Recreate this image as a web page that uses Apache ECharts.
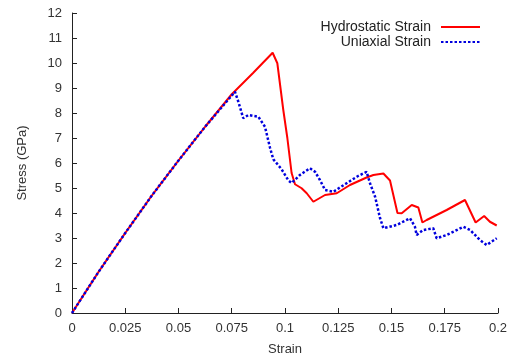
<!DOCTYPE html>
<html>
<head>
<meta charset="utf-8">
<script src="https://cdn.jsdelivr.net/npm/echarts@6/dist/echarts.min.js"></script>
<style>
  html, body { margin: 0; padding: 0; background: #fff; }
  #chart { width: 522px; height: 359px; }
</style>
</head>
<body>
<div id="chart"></div>
<script>
// strain / stress
const hydroStrain = [0, 0.0125, 0.025, 0.0375, 0.05, 0.0625, 0.075, 0.085, 0.0942, 0.0964,
    0.0992, 0.1011, 0.1031, 0.1047, 0.1078, 0.1102, 0.1133, 0.1188, 0.1243, 0.1305,
    0.1383, 0.1415, 0.1462, 0.1493, 0.1528, 0.1548, 0.1595, 0.1626, 0.1645, 0.1665,
    0.1759, 0.1845, 0.1895, 0.1935, 0.1962, 0.1994];
const hydroStress = [0, 1.65, 3.2, 4.7, 6.1, 7.45, 8.75, 9.6, 10.41, 9.99,
    8.12, 7.0, 5.6, 5.15, 4.99, 4.79, 4.45, 4.72, 4.79, 5.12,
    5.42, 5.52, 5.58, 5.3, 4.0, 3.99, 4.32, 4.22, 3.62, 3.72,
    4.12, 4.52, 3.62, 3.88, 3.65, 3.5];

const uniStrain = [0, 0.0125, 0.025, 0.0375, 0.05, 0.0625, 0.0765, 0.0781, 0.0804, 0.0828,
    0.0875, 0.0906, 0.093, 0.0945, 0.0984, 0.1016, 0.1031, 0.107, 0.1117, 0.1141,
    0.1164, 0.1188, 0.1227, 0.1289, 0.1337, 0.1383, 0.1399, 0.1423, 0.1446, 0.1462,
    0.1524, 0.1587, 0.161, 0.1618, 0.1649, 0.1696, 0.1712, 0.1759, 0.1837, 0.1869,
    0.1915, 0.1947, 0.1994];
const uniStress = [0, 1.65, 3.2, 4.7, 6.1, 7.45, 8.85, 8.45, 7.79, 7.92,
    7.85, 7.45, 6.6, 6.15, 5.75, 5.3, 5.2, 5.52, 5.79, 5.65,
    5.32, 4.92, 4.85, 5.19, 5.45, 5.65, 5.19, 4.65, 3.8, 3.39,
    3.52, 3.79, 3.45, 3.12, 3.32, 3.39, 2.99, 3.12, 3.45, 3.32,
    2.92, 2.72, 2.99];

const seriesNames = ['Hydrostatic Strain', 'Uniaxial Strain'];
const xLabel = 'Strain';
const yLabel = 'Stress (GPa)';

const zip = (xs, ys) => xs.map((x, i) => [x, ys[i]]);

const font = 'Liberation Sans';
const textGray = '#333';

const chart = echarts.init(document.getElementById('chart'), null, { renderer: 'canvas' });

chart.setOption({
    animation: false,
    textStyle: { fontFamily: font },
    grid: { left: 72, right: 24, top: 13, bottom: 46, outerBoundsMode: 'none' },
    legend: {
        data: seriesNames,
        orient: 'vertical',
        align: 'right',
        right: 36,
        top: 15,
        itemWidth: 39,
        itemHeight: 10,
        itemGap: 1,
        itemStyle: { opacity: 0 },
        textStyle: { fontFamily: font, fontSize: 14, color: '#222', padding: [0, 5, 0, 0] },
    },
    xAxis: {
        type: 'value',
        min: 0,
        max: 0.2,
        interval: 0.025,
        name: xLabel,
        nameLocation: 'middle',
        nameGap: 30,
        nameTextStyle: { fontFamily: font, fontSize: 13, color: textGray },
        axisLine: { lineStyle: { color: '#222', width: 1 } },
        axisTick: { inside: true, length: 5, lineStyle: { color: '#222' } },
        axisLabel: { fontFamily: font, fontSize: 13, color: textGray, margin: 9 },
        splitLine: { show: false },
    },
    yAxis: {
        type: 'value',
        min: 0,
        max: 12,
        interval: 1,
        name: yLabel,
        nameLocation: 'middle',
        nameGap: 43,
        nameTextStyle: { fontFamily: font, fontSize: 13, color: textGray },
        axisLine: { show: true, lineStyle: { color: '#222', width: 1 } },
        axisTick: { show: true, inside: true, length: 5, lineStyle: { color: '#222' } },
        axisLabel: { fontFamily: font, fontSize: 13, color: textGray, margin: 10 },
        splitLine: { show: false },
    },
    series: [
        {
            name: seriesNames[0],
            type: 'line',
            data: zip(hydroStrain, hydroStress),
            symbol: 'none',
            lineStyle: { color: '#ff0000', width: 2 },
            itemStyle: { color: '#ff0000' },
        },
        {
            name: seriesNames[1],
            type: 'line',
            data: zip(uniStrain, uniStress),
            symbol: 'none',
            lineStyle: { color: '#0000dd', width: 2.5, type: [2.5, 2] },
            itemStyle: { color: '#0000dd' },
        },
    ],
});
</script>
</body>
</html>
